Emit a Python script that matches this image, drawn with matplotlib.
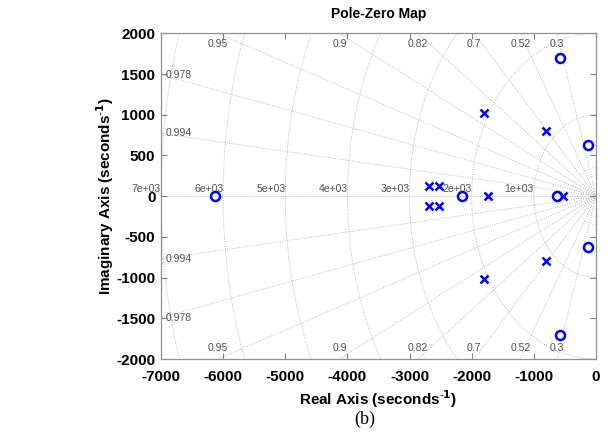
import numpy as np
import matplotlib
matplotlib.use("Agg")
import matplotlib.pyplot as plt

# ---- data ----
zeros_re = [-580, -580, -125, -125, -6130, -2150, -630]
zeros_im = [1700, -1700, 625, -625, 0, 0, 0]
poles_re = [-1810, -1810, -810, -810, -2690, -2690, -2530, -2530, -1735, -530]
poles_im = [1020, -1020, 795, -795, 125, -125, 125, -125, 0, 0]

zeta_vals = [0.3, 0.52, 0.7, 0.82, 0.9, 0.95, 0.978, 0.994]
zeta_labels = ["0.3", "0.52", "0.7", "0.82", "0.9", "0.95", "0.978", "0.994"]
wn_vals = [1000, 2000, 3000, 4000, 5000, 6000, 7000]
wn_labels = ["1e+03", "2e+03", "3e+03", "4e+03", "5e+03", "6e+03", "7e+03"]

xticks = [-7000, -6000, -5000, -4000, -3000, -2000, -1000, 0]
yticks = [-2000, -1500, -1000, -500, 0, 500, 1000, 1500, 2000]

plt.rcParams['font.family'] = ['Liberation Sans', 'DejaVu Sans']

fig = plt.figure(figsize=(6.16, 4.34), dpi=100)
ax = fig.add_axes([0.2614, 0.1728, 0.7061, 0.7505])
xmin, xmax, ymin, ymax = -7000, 0, -2000, 2000
ax.set_xlim(xmin, xmax)
ax.set_ylim(ymin, ymax)

gcol = '#b8b8b8'
gkw = dict(color=gcol, lw=0.7, ls=(0, (1, 1.5)), zorder=1)
# real axis
ax.plot([xmin, xmax], [0, 0], **gkw)
# damping rays
R = 20000
for z in zeta_vals:
    th = np.arccos(z)
    for s in (1, -1):
        ax.plot([0, -R * np.cos(th)], [0, s * R * np.sin(th)], **gkw)
# natural frequency semicircles
t = np.linspace(np.pi / 2, 3 * np.pi / 2, 400)
for r in wn_vals:
    ax.plot(r * np.cos(t), r * np.sin(t), **gkw)
for r in [150, 250, 350]:
    ax.plot(r * np.cos(t), r * np.sin(t), color='#d0d0d0', lw=0.5, ls=(0, (1, 1.5)), zorder=1)

lcol = '#505050'
lfs = 7.5
# damping labels top/bottom and left
for z, lab in zip(zeta_vals, zeta_labels):
    th = np.arccos(z)
    xt = -ymax / np.tan(th)
    if xt > xmin:
        ax.text(xt, ymax - 70, lab, ha='center', va='top', fontsize=lfs, color=lcol, zorder=2)
        ax.text(xt, ymin + 70, lab, ha='center', va='bottom', fontsize=lfs, color=lcol, zorder=2)
    else:
        yt = -xmin * np.tan(th)
        ax.text(xmin + 80, yt, lab, ha='left', va='center', fontsize=lfs, color=lcol, zorder=2)
        ax.text(xmin + 80, -yt, lab, ha='left', va='center', fontsize=lfs, color=lcol, zorder=2)
# wn labels
for r, lab in zip(wn_vals, wn_labels):
    ax.text(-r, 25, lab, ha='right', va='bottom', fontsize=lfs, color=lcol, zorder=2)

# markers
ax.plot(zeros_re, zeros_im, 'o', ms=6.5, mfc='none', mec='#0000ff', mew=1.8, zorder=4)
ax.plot(poles_re, poles_im, 'x', ms=5.5, mec='#0000ff', mew=1.8, zorder=4)

ax.set_xticks(xticks)
ax.set_yticks(yticks)
ax.set_xticklabels([str(v) for v in xticks], fontsize=11, fontweight='bold')
ax.set_yticklabels([str(v) for v in yticks], fontsize=11, fontweight='bold')
ax.tick_params(direction='in', length=4, width=0.8, color='#808080',
               top=True, right=True)
ax.tick_params(axis='x', pad=8)
ax.tick_params(axis='y', pad=4)
for sp in ax.spines.values():
    sp.set_color('#909090')
    sp.set_linewidth(0.9)

ax.set_xlabel('Real Axis (seconds$^{\\mathbf{\\text{-}1}}$)', fontsize=11, fontweight='bold', labelpad=3)
ax.set_ylabel('Imaginary Axis (seconds$^{\\mathbf{\\text{-}1}}$)', fontsize=11, fontweight='bold', labelpad=0)
ax.set_title('Pole-Zero Map', fontsize=10, fontweight='bold', pad=11)

fig.text(0.5925, 0.014, '(b)', ha='center', va='bottom', fontsize=13,
         family=['Liberation Serif', 'DejaVu Serif'])

fig.savefig('out.png', dpi=100)
